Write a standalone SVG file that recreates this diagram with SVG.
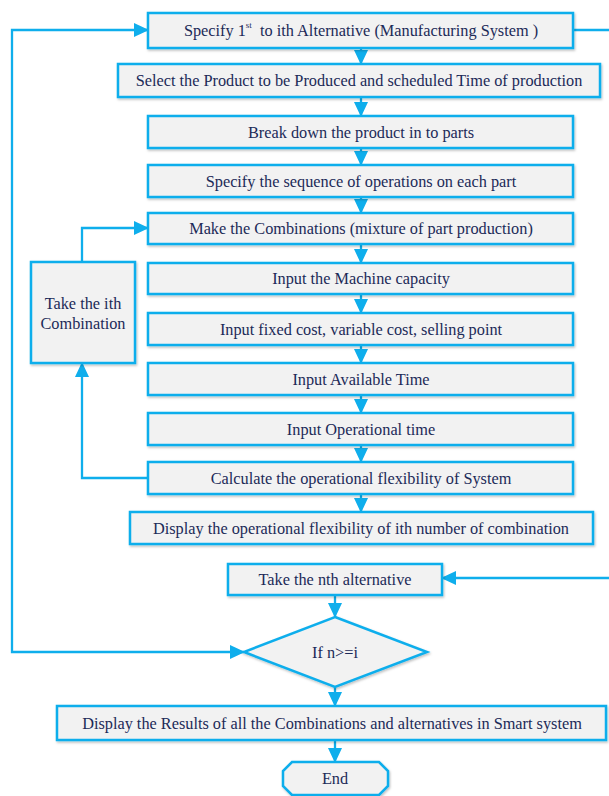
<svg xmlns="http://www.w3.org/2000/svg" width="609" height="796" viewBox="0 0 609 796">
<defs>
<style>
.box{fill:#F2F2F2;stroke:#0FAEEC;stroke-width:2.5;filter:url(#sh)}
.t{font-family:'Liberation Serif','Times New Roman',serif;font-size:16.3px;fill:#1C2A58;text-anchor:middle;dominant-baseline:central}
.c{fill:none;stroke:#0FAEEC;stroke-width:2.3}
</style>
<filter id="sh" x="-5%" y="-20%" width="110%" height="150%">
<feDropShadow dx="1" dy="1.5" stdDeviation="1.2" flood-color="#000" flood-opacity="0.25"/>
</filter>
<marker id="ar" markerUnits="userSpaceOnUse" markerWidth="15" markerHeight="15" refX="14" refY="7" orient="auto-start-reverse" viewBox="0 0 15 14">
<path d="M0,0 L15,7 L0,14 z" fill="#0FAEEC"/>
</marker>
</defs>
<rect width="609" height="796" fill="#fff"/>
<g id="connectors">
<path class="c" d="M244,652 H12 V30 H148" marker-start="url(#ar)" marker-end="url(#ar)"/>
<path class="c" d="M573,30 H615 V578 H442" marker-end="url(#ar)"/>
<path class="c" d="M148,478 H82 V363" marker-end="url(#ar)"/>
<path class="c" d="M82,262 V228 H148" marker-end="url(#ar)"/>
<path class="c" d="M361,48 V64" marker-end="url(#ar)"/>
<path class="c" d="M361,97 V116" marker-end="url(#ar)"/>
<path class="c" d="M361,148 V165" marker-end="url(#ar)"/>
<path class="c" d="M361,197 V213" marker-end="url(#ar)"/>
<path class="c" d="M361,244 V263" marker-end="url(#ar)"/>
<path class="c" d="M361,294 V313" marker-end="url(#ar)"/>
<path class="c" d="M361,345 V363" marker-end="url(#ar)"/>
<path class="c" d="M361,395 V413" marker-end="url(#ar)"/>
<path class="c" d="M361,445 V462" marker-end="url(#ar)"/>
<path class="c" d="M361,494 V512" marker-end="url(#ar)"/>
<path class="c" d="M335,595 V617" marker-end="url(#ar)"/>
<path class="c" d="M335,687 V706" marker-end="url(#ar)"/>
<path class="c" d="M335,740 V762" marker-end="url(#ar)"/>
</g>
<g id="n1"><rect class="box" x="148" y="13" width="425" height="35"/><text class="t" x="361" y="30">Specify 1<tspan font-size="9" dy="-5">st</tspan><tspan dy="5">&#160; to ith Alternative (Manufacturing System )</tspan></text></g>
<g id="n2"><rect class="box" x="118" y="64" width="482" height="33"/><text class="t" x="359" y="80.5">Select the Product to be Produced and scheduled Time of production</text></g>
<g id="n3"><rect class="box" x="148" y="116" width="425" height="32"/><text class="t" x="361" y="132">Break down the product in to parts</text></g>
<g id="n4"><rect class="box" x="148" y="165" width="425" height="32"/><text class="t" x="361" y="181">Specify the sequence of operations on each part</text></g>
<g id="n5"><rect class="box" x="148" y="213" width="425" height="31"/><text class="t" x="361" y="228.5">Make the Combinations (mixture of part production)</text></g>
<g id="n6"><rect class="box" x="148" y="263" width="425" height="31"/><text class="t" x="361" y="278.5">Input the Machine capacity</text></g>
<g id="n7"><rect class="box" x="148" y="313" width="425" height="32"/><text class="t" x="361" y="329">Input fixed cost, variable cost, selling point</text></g>
<g id="n8"><rect class="box" x="148" y="363" width="425" height="32"/><text class="t" x="361" y="379">Input Available Time</text></g>
<g id="n9"><rect class="box" x="148" y="413" width="425" height="32"/><text class="t" x="361" y="429">Input Operational time</text></g>
<g id="n10"><rect class="box" x="148" y="462" width="425" height="32"/><text class="t" x="361" y="478">Calculate the operational flexibility of System</text></g>
<g id="n11"><rect class="box" x="130" y="512" width="463" height="32"/><text class="t" x="361" y="528">Display the operational flexibility of ith number of combination</text></g>
<g id="side"><rect class="box" x="31" y="262" width="104" height="101"/><text class="t" x="83" y="303">Take the ith</text><text class="t" x="83" y="323">Combination</text></g>
<g id="n12"><rect class="box" x="228" y="564" width="214" height="31"/><text class="t" x="335" y="579.5">Take the nth alternative</text></g>
<g id="dec"><polygon class="box" points="335,617 427,652 335,687 244,652"/><text class="t" x="335" y="652">If n&gt;=i</text></g>
<g id="n13"><rect class="box" x="57" y="706" width="549" height="34"/><text class="t" x="332" y="723">Display the Results of all the Combinations and alternatives in Smart system</text></g>
<g id="end"><polygon class="box" points="292,762 379,762 388,771 388,786 379,795 292,795 283,786 283,771"/><text class="t" x="335" y="778">End</text></g>
</svg>
